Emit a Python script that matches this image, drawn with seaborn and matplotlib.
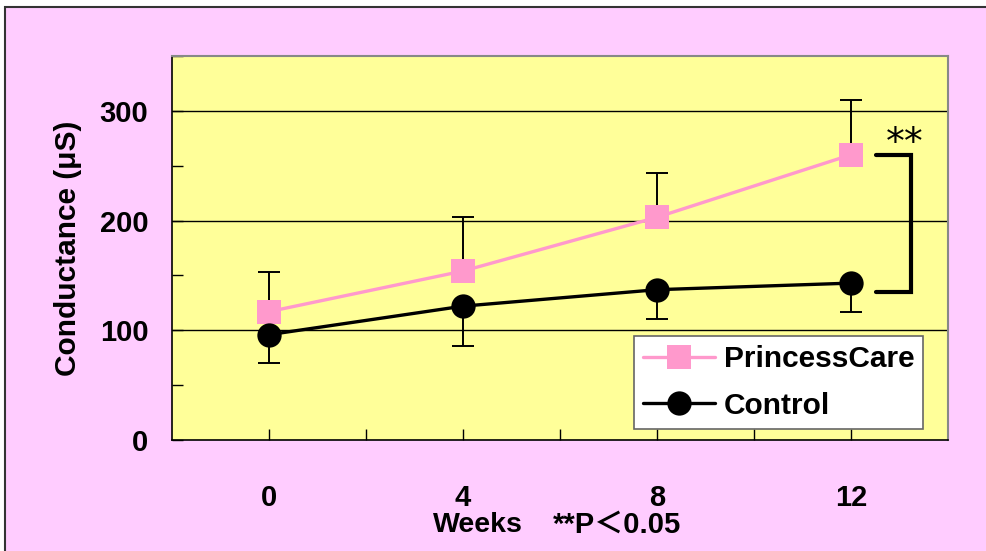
import numpy as np
import pandas as pd
import matplotlib
matplotlib.use("Agg")
import matplotlib.pyplot as plt
from matplotlib.patches import Rectangle
from matplotlib.ticker import MultipleLocator, FixedLocator
import seaborn as sns

weeks = [0, 4, 8, 12]
princess = [117, 154, 203, 260]
princess_sd = [36, 49, 40, 50]
control = [96, 122, 137, 143]
control_sd = [26, 36, 27, 26]
groups = ["PrincessCare", "Control"]

sns.set_style("ticks")
plt.rcParams["font.family"] = ["Liberation Sans", "DejaVu Sans"]
plt.rcParams["text.color"] = "black"
plt.rcParams["axes.labelcolor"] = "black"

pink = "#FF99CC"
xpos = np.arange(len(weeks)) + 0.5

df = pd.DataFrame({
    "x": np.concatenate([xpos, xpos]),
    "y": princess + control,
    "group": [groups[0]] * 4 + [groups[1]] * 4,
})

fig = plt.figure(figsize=(9.86, 5.51), dpi=100)
fig.patch.set_facecolor("white")
fig.patches.append(Rectangle((5 / 986, -0.1), 1.1, 1 - 7 / 551 + 0.1,
                             transform=fig.transFigure, facecolor="#FFCCFF",
                             edgecolor="#333333", linewidth=1.5, zorder=-5))

ax = fig.add_axes([172 / 986, 1 - 440 / 551, 776 / 986, 384 / 551])
ax.set_zorder(2)
ax.set_facecolor("#FFFF99")

# error bars: upper for PrincessCare, lower for Control
ax.errorbar(xpos, princess, yerr=[np.zeros(4), princess_sd], fmt="none",
            ecolor="black", elinewidth=1.4, capsize=8, capthick=1.4, zorder=2)
ax.errorbar(xpos, control, yerr=[control_sd, np.zeros(4)], fmt="none",
            ecolor="black", elinewidth=1.4, capsize=8, capthick=1.4, zorder=2)

sns.lineplot(data=df, x="x", y="y", hue="group", style="group",
             palette={groups[0]: pink, groups[1]: "black"},
             markers={groups[0]: "s", groups[1]: "o"}, dashes=False,
             markersize=17.5, markeredgewidth=0, linewidth=2.4, ax=ax, zorder=3)

ax.set_xlim(0, 4)
ax.set_ylim(0, 350)
ax.yaxis.set_major_locator(FixedLocator([0, 100, 200, 300]))
ax.yaxis.set_minor_locator(MultipleLocator(50))
ax.xaxis.set_major_locator(FixedLocator(xpos))
ax.xaxis.set_minor_locator(FixedLocator([1, 2, 3]))
ax.set_xticklabels([str(w) for w in weeks])
ax.tick_params(axis="both", which="both", direction="in", length=8, width=1,
               colors="black", labelsize=21)
ax.tick_params(axis="x", pad=32)
ax.tick_params(axis="y", pad=17)
for lab in ax.get_xticklabels() + ax.get_yticklabels():
    lab.set_fontweight("bold")

for v in [100, 200, 300]:
    ax.axhline(v, color="black", linewidth=1, zorder=1)

for s in ["left", "bottom"]:
    ax.spines[s].set_color("black")
    ax.spines[s].set_linewidth(1.2)
for s in ["top", "right"]:
    ax.spines[s].set_color("#888888")
    ax.spines[s].set_linewidth(1.5)

ax.set_xlabel("")
ax.set_ylabel("Conductance (μS)", fontsize=21.5, fontweight="bold", labelpad=13)

# significance bracket
ax.plot([3.63, 3.81, 3.81, 3.63], [260, 260, 135, 135], color="black",
        linewidth=3, solid_joinstyle="miter", clip_on=False, zorder=4)
ax.text(3.775, 253, "**", fontsize=27, ha="center",
        va="bottom", family=["DejaVu Sans"])

leg = ax.legend(loc="lower right", bbox_to_anchor=(0.968, 0.029),
                borderaxespad=0, fancybox=False, framealpha=1,
                edgecolor="#666666", handlelength=2.4, handletextpad=0.3,
                labelspacing=0.62, borderpad=0.3,
                prop={"size": 21.5, "weight": "bold"})
leg.get_frame().set_linewidth(1.2)

fig.text(478 / 986, 1 - 525 / 551, "Weeks", fontsize=20.5, fontweight="bold",
         ha="center", va="center")
fig.text(617 / 986, 1 - 525 / 551, "**P＜0.05", fontsize=21, ha="center",
         va="center", fontweight="bold",
         family=["Liberation Sans", "Noto Sans CJK JP"])

fig.savefig("out.png", dpi=100)
